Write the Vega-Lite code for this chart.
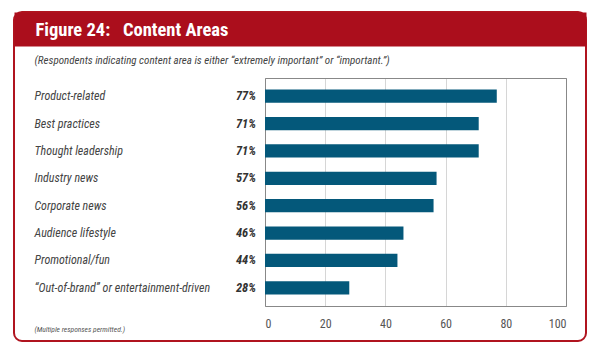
{
  "$schema": "https://vega.github.io/schema/vega-lite/v6.json",
  "autosize": "none",
  "padding": {"left": 14, "top": 12, "right": 14, "bottom": 13},
  "background": "white",
  "width": 572,
  "height": 329,
  "view": {"stroke": "#b0141f", "strokeWidth": 2, "cornerRadius": 8, "fill": "white"},
  "config": {
    "font": "Roboto Condensed, DejaVu Sans Condensed, Roboto, sans-serif",
    "axis": {"labelFont": "Roboto Condensed, DejaVu Sans Condensed, Roboto, sans-serif", "titleFont": "Roboto Condensed, DejaVu Sans Condensed, Roboto, sans-serif"}
  },
  "data": {
    "values": [
      {"area": "Product-related", "pct": 0.77},
      {"area": "Best practices", "pct": 0.71},
      {"area": "Thought leadership", "pct": 0.71},
      {"area": "Industry news", "pct": 0.57},
      {"area": "Corporate news", "pct": 0.56},
      {"area": "Audience lifestyle", "pct": 0.46},
      {"area": "Promotional/fun", "pct": 0.44},
      {"area": "“Out-of-brand” or entertainment-driven", "pct": 0.28}
    ]
  },
  "layer": [
    {
      "mark": {"type": "bar", "color": "#04587a"},
      "encoding": {
        "y": {
          "field": "area",
          "type": "nominal",
          "sort": null,
          "scale": {"range": [66, 294], "paddingInner": 0.514, "paddingOuter": 0.42},
          "axis": {
            "orient": "left",
            "offset": -251,
            "domainColor": "#888888",
            "domainWidth": 1,
            "ticks": false,
            "grid": false,
            "labelAlign": "left",
            "labelPadding": 231,
            "labelFontStyle": "italic",
            "labelFontSize": 12,
            "labelColor": "#444444",
            "labelLimit": 300,
            "title": "(Respondents indicating content area is either “extremely important” or “important.”)",
            "titleAngle": 0,
            "titleX": -231,
            "titleY": 51,
            "titleAlign": "left",
            "titleBaseline": "alphabetic",
            "titleFontStyle": "italic",
            "titleFontWeight": "normal",
            "titleFontSize": 11,
            "titleColor": "#444444"
          }
        },
        "x": {
          "field": "pct",
          "type": "quantitative",
          "scale": {"domain": [0, 1], "range": [251, 552], "nice": false},
          "axis": {
            "orient": "bottom",
            "offset": -35,
            "values": [0, 0.2, 0.4, 0.6, 0.8, 1],
            "labelExpr": "format(datum.value * 100, 'd')",
            "domainColor": "#888888",
            "tickColor": {"condition": {"test": "datum.value == 0 || datum.value == 1", "value": "#888888"}, "value": "#d6d6d6"},
            "tickSize": -228,
            "tickWidth": 1,
            "labelPadding": 240,
            "labelFontSize": 12,
            "labelColor": "#555555",
            "grid": false,
            "title": "(Multiple responses permitted.)",
            "titleX": 20,
            "titleY": 25,
            "titleAlign": "left",
            "titleBaseline": "alphabetic",
            "titleFontSize": 7.5,
            "titleFontStyle": "italic",
            "titleFontWeight": "normal",
            "titleColor": "#555555"
          }
        }
      }
    },
    {
      "mark": {"type": "text", "align": "right", "dx": -9, "fontWeight": "bold", "fontStyle": "italic", "fontSize": 12.5, "color": "#333333"},
      "encoding": {
        "y": {
          "field": "area",
          "type": "nominal",
          "sort": null,
          "axis": {"orient": "right", "offset": -20, "domainColor": "#888888", "ticks": false, "labels": false, "title": null, "grid": false}
        },
        "x": {
          "datum": 0,
          "type": "quantitative",
          "scale": {"domain": [0, 1], "range": [251, 552], "nice": false},
          "axis": {"orient": "top", "offset": -66, "domainColor": "#888888", "ticks": false, "labels": false, "grid": false, "title": null}
        },
        "text": {"field": "pct", "format": ".0%"}
      }
    },
    {
      "mark": {"type": "text"},
      "encoding": {
        "x": {
          "datum": 0,
          "type": "quantitative",
          "scale": {"domain": [0, 1], "range": [0, 572], "nice": false},
          "axis": {
            "orient": "top",
            "offset": -17,
            "domainColor": "#ab0e1c",
            "domainWidth": 34,
            "domainCap": "butt",
            "ticks": false,
            "labels": false,
            "grid": false,
            "title": "Figure 24:\u00a0\u00a0\u00a0Content Areas",
            "titleX": 21,
            "titleY": 6.7,
            "titleAlign": "left",
            "titleBaseline": "alphabetic",
            "titleColor": "white",
            "titleFontSize": 18.5,
            "titleFontWeight": "bold"
          }
        }
      }
    }
  ],
  "resolve": {"scale": {"x": "independent"}, "axis": {"x": "independent", "y": "independent"}}
}
